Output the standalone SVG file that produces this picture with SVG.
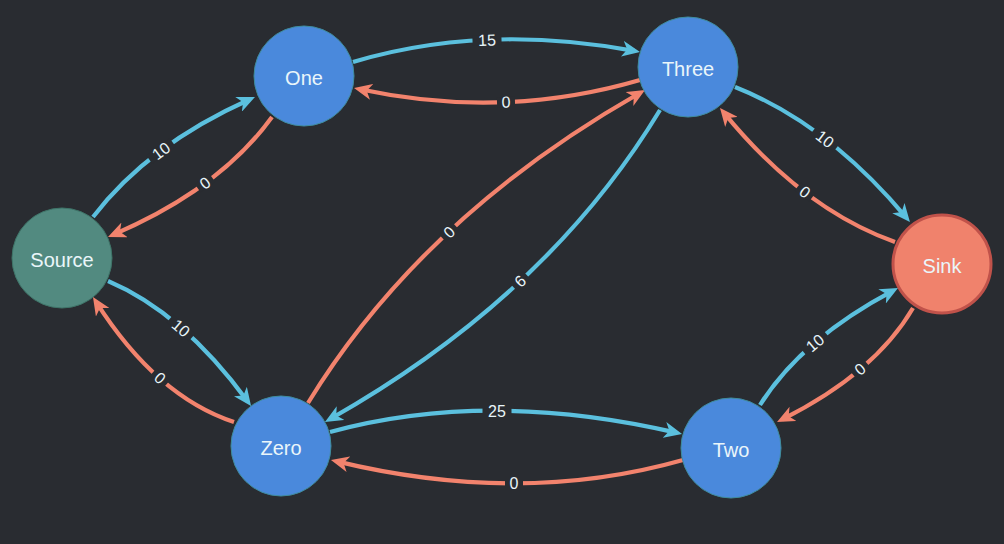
<svg xmlns="http://www.w3.org/2000/svg" width="1004" height="544" viewBox="0 0 1004 544">
<style>
.bg{fill:#292c31}
.e{fill:none;stroke-width:4.2;stroke-linecap:butt}
.c{stroke:#5bc0de}
.s{stroke:#f2836d}
.lb{fill:#292c31}
.lt{font-family:"Liberation Sans",Arial,sans-serif;font-size:16px;fill:#e8f5f9;text-anchor:middle}
.n{stroke-width:1}
.blue{fill:#4a89dc;stroke:#3f8c9c}
.src{fill:#528a80;stroke:#3e7468}
.sink{fill:#f0826c;stroke:#c0524a;stroke-width:3}
.nt{font-family:"Liberation Sans",Arial,sans-serif;font-size:20px;fill:#eaf6fa;text-anchor:middle}
</style>
<defs>
<marker id="ac" markerUnits="userSpaceOnUse" markerWidth="18" markerHeight="16" refX="12" refY="8" orient="auto"><path d="M0,0 L18,8 L0,16 L5,8 Z" fill="#5bc0de"/></marker>
<marker id="as" markerUnits="userSpaceOnUse" markerWidth="18" markerHeight="16" refX="12" refY="8" orient="auto"><path d="M0,0 L18,8 L0,16 L5,8 Z" fill="#f2836d"/></marker>
</defs>
<rect class="bg" x="0" y="0" width="1004" height="544"/>
<g id="connectors">
<path class="e c" d="M93,217 Q148,145 249.5,99.5" marker-end="url(#ac)"/>
<path class="e s" d="M272,117 Q220,189 113.5,234.6" marker-end="url(#as)"/>
<path class="e c" d="M353,62 Q483.5,23 634.1,50.9" marker-end="url(#ac)"/>
<path class="e s" d="M640,80 Q503,120 359.9,89.3" marker-end="url(#as)"/>
<path class="e c" d="M735,87 Q827.5,123.5 906.1,217.4" marker-end="url(#ac)"/>
<path class="e s" d="M895,242 Q802.5,209 723.8,112.6" marker-end="url(#as)"/>
<path class="e c" d="M108,281 Q182.5,312.5 247.5,401.2" marker-end="url(#ac)"/>
<path class="e s" d="M234,422 Q156.5,396.5 96.2,302.1" marker-end="url(#as)"/>
<path class="e s" d="M308,403 Q421.5,217.5 639.8,93" marker-end="url(#as)"/>
<path class="e c" d="M660,110 Q547.5,296 330.2,419" marker-end="url(#ac)"/>
<path class="e c" d="M330,432 Q488,389 676.2,432.6" marker-end="url(#ac)"/>
<path class="e s" d="M683,460 Q521,506 336.8,461.4" marker-end="url(#as)"/>
<path class="e c" d="M760,405 Q801,339.5 892.7,290.8" marker-end="url(#ac)"/>
<path class="e s" d="M913,308 Q875,373 782.4,419.3" marker-end="url(#as)"/>
<g transform="translate(161,151) rotate(-36.5)"><rect class="lb" x="-14.5" y="-5" width="29" height="10"/><text class="lt" y="5.7">10</text></g>
<g transform="translate(205,183) rotate(-36)"><rect class="lb" x="-9" y="-5" width="18" height="10"/><text class="lt" y="5.7">0</text></g>
<g transform="translate(487,40) rotate(-2)"><rect class="lb" x="-14.5" y="-5" width="29" height="10"/><text class="lt" y="5.7">15</text></g>
<g transform="translate(506,102) rotate(-1.6)"><rect class="lb" x="-9" y="-5" width="18" height="10"/><text class="lt" y="5.7">0</text></g>
<g transform="translate(825,139) rotate(37.6)"><rect class="lb" x="-14.5" y="-5" width="29" height="10"/><text class="lt" y="5.7">10</text></g>
<g transform="translate(805,192) rotate(37.4)"><rect class="lb" x="-9" y="-5" width="18" height="10"/><text class="lt" y="5.7">0</text></g>
<g transform="translate(181,328) rotate(41)"><rect class="lb" x="-14.5" y="-5" width="29" height="10"/><text class="lt" y="5.7">10</text></g>
<g transform="translate(160,378) rotate(41.6)"><rect class="lb" x="-9" y="-5" width="18" height="10"/><text class="lt" y="5.7">0</text></g>
<g transform="translate(449,232) rotate(-43)"><rect class="lb" x="-9" y="-5" width="18" height="10"/><text class="lt" y="5.7">0</text></g>
<g transform="translate(520,281) rotate(-43)"><rect class="lb" x="-9" y="-5" width="18" height="10"/><text class="lt" y="5.7">6</text></g>
<g transform="translate(497,411)"><rect class="lb" x="-14.5" y="-5" width="29" height="10"/><text class="lt" y="5.7">25</text></g>
<g transform="translate(514,483)"><rect class="lb" x="-9" y="-5" width="18" height="10"/><text class="lt" y="5.7">0</text></g>
<g transform="translate(815,343) rotate(-40)"><rect class="lb" x="-14.5" y="-5" width="29" height="10"/><text class="lt" y="5.7">10</text></g>
<g transform="translate(860,369) rotate(-40)"><rect class="lb" x="-9" y="-5" width="18" height="10"/><text class="lt" y="5.7">0</text></g>
</g>
<g id="node-source"><circle class="n src" cx="62" cy="258" r="50"/><text class="nt" x="62" y="267">Source</text></g>
<g id="node-one"><circle class="n blue" cx="304" cy="76" r="50"/><text class="nt" x="304" y="85">One</text></g>
<g id="node-three"><circle class="n blue" cx="688" cy="67" r="50"/><text class="nt" x="688" y="76">Three</text></g>
<g id="node-sink"><circle class="n sink" cx="942" cy="264" r="49"/><text class="nt" x="942" y="273">Sink</text></g>
<g id="node-zero"><circle class="n blue" cx="281" cy="446" r="50"/><text class="nt" x="281" y="455">Zero</text></g>
<g id="node-two"><circle class="n blue" cx="731" cy="448" r="50"/><text class="nt" x="731" y="457">Two</text></g>
</svg>
